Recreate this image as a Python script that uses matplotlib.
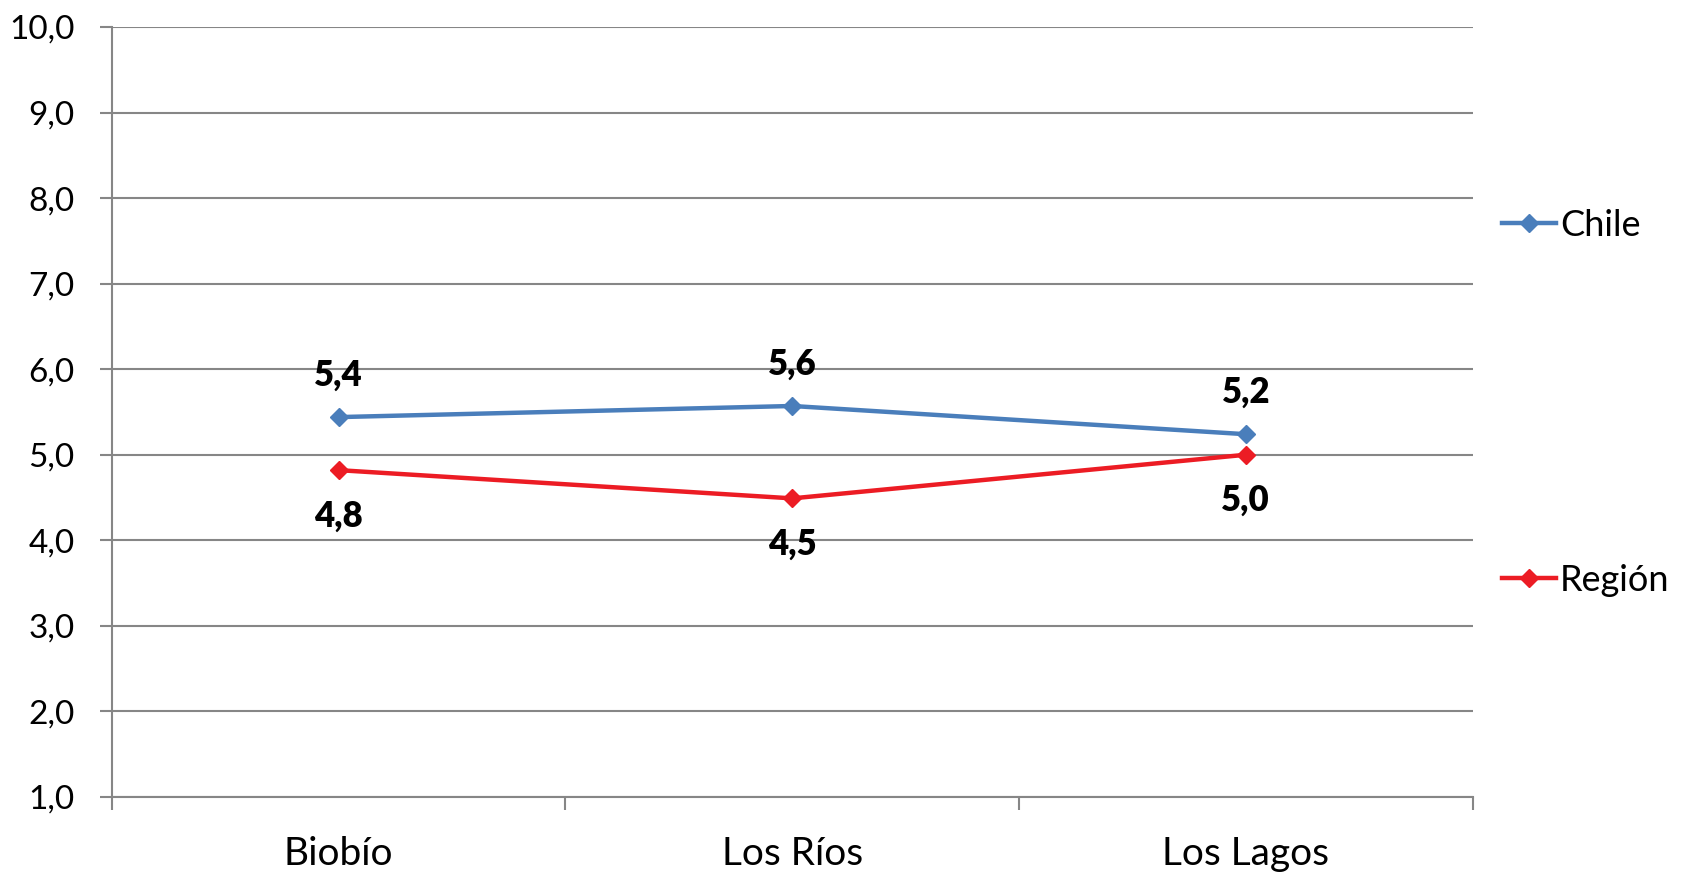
import numpy as np
import matplotlib; matplotlib.use("Agg")
import matplotlib.pyplot as plt
from matplotlib.ticker import FixedLocator, FuncFormatter

plt.rcParams['font.family'] = ['Lato', 'DejaVu Sans']

regions = ['Biobío', 'Los Ríos', 'Los Lagos']
chile = [5.44, 5.57, 5.24]
region = [4.82, 4.49, 5.00]
yticks = np.arange(1, 10.01, 1.0)

GRAY = '#868686'
BLUE = '#4A7EBB'
RED = '#EC1C24'

fig = plt.figure(figsize=(16.83, 8.73), dpi=100)
ax = fig.add_axes([0.0665, 0.0871, 0.8085, 0.882])
x = np.arange(len(regions))

ax.plot(x, chile, color=BLUE, lw=3.2, marker='D', ms=9, label='Chile', zorder=3)
ax.plot(x, region, color=RED, lw=3.2, marker='D', ms=9, label='Región', zorder=3)

fmt = lambda v: f'{v:.1f}'.replace('.', ',')
for xi, v in zip(x, chile):
    ax.annotate(fmt(v), (xi, v), xytext=(0, 30), textcoords='offset points',
                ha='center', va='center', fontsize=25, fontweight='heavy')
for xi, v in zip(x, region):
    ax.annotate(fmt(v), (xi, v), xytext=(0, -33), textcoords='offset points',
                ha='center', va='center', fontsize=25, fontweight='heavy')

ax.set_xlim(-0.5, 2.5)
ax.set_ylim(1, 10)
ax.set_yticks(yticks)
ax.yaxis.set_major_formatter(FuncFormatter(lambda v, p: fmt(v)))
ax.set_xticks(x)
ax.set_xticklabels(regions)
ax.xaxis.set_minor_locator(FixedLocator([-0.5, 0.5, 1.5, 2.5]))
ax.tick_params(axis='x', which='major', length=0, pad=28, labelsize=28)
ax.tick_params(axis='x', which='minor', length=9, width=1.5, color=GRAY, direction='out')
ax.tick_params(axis='y', length=9, width=1.5, color=GRAY, pad=18, labelsize=24)
ax.grid(axis='y', color=GRAY, lw=1.5)
ax.set_axisbelow(True)
for s in ['top', 'right']:
    ax.spines[s].set_visible(False)
for s in ['left', 'bottom']:
    ax.spines[s].set_color(GRAY)
    ax.spines[s].set_linewidth(1.5)

fig.legend(loc='upper left', bbox_to_anchor=(0.884, 0.777), frameon=False,
           fontsize=26, labelspacing=8.9, handlelength=1.5, handletextpad=0.1,
           borderaxespad=0)

fig.savefig('out.png', dpi=100)
